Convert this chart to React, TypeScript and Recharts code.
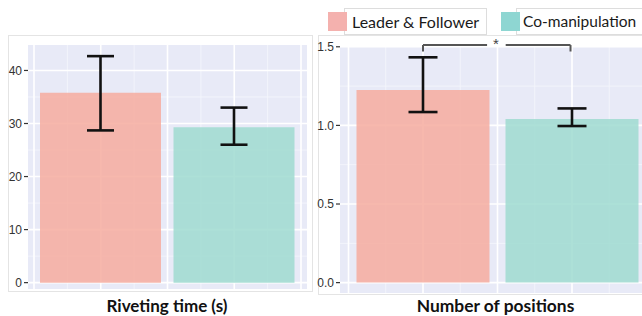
import React from 'react';
import { BarChart, Bar, XAxis, YAxis, CartesianGrid, ErrorBar, ReferenceLine, ReferenceDot, Cell } from 'recharts';

const categories = ['Leader & Follower', 'Co-manipulation'];
const positions = [1, 2];
const rivetMean = [35.8, 29.3];
const rivetLow = [28.7, 26.0];
const rivetHigh = [42.7, 33.0];
const posMean = [1.225, 1.04];
const posLow = [1.085, 0.996];
const posHigh = [1.433, 1.108];
const rivetTicks = [0, 10, 20, 30, 40];
const rivetMinorTicks = [5, 15, 25, 35];
const posTicks = [0, 0.5, 1.0, 1.5];
const posMinorTicks = [0.25, 0.75, 1.25];
const gridMajorX = [0.5, 1, 1.5, 2, 2.5];
const gridMinorX = [0.75, 1.25, 1.75, 2.25];
const barColors = ['#F6AC9F', '#9FDBD0'];
const legendColors = ['#F4B1AE', '#8ED6D2'];
const panelTitles = ['Riveting time (s)', 'Number of positions'];

const rivetData = categories.map((c, i) => ({
  cat: c,
  pos: positions[i],
  mean: rivetMean[i],
  err: [rivetMean[i] - rivetLow[i], rivetHigh[i] - rivetMean[i]],
}));
const posData = categories.map((c, i) => ({
  cat: c,
  pos: positions[i],
  mean: posMean[i],
  err: [posMean[i] - posLow[i], posHigh[i] - posMean[i]],
}));

const tickStyle = { fontSize: 12, fontFamily: 'Liberation Sans, Arial, sans-serif', fill: '#333' };

function Panel(props: {
  data: any[];
  width: number;
  height: number;
  margin: any;
  yWidth: number;
  domain: [number, number];
  ticks: number[];
  minorTicks: number[];
  pad: number;
  barSize: number;
  whisker: number;
  fmt?: (v: number) => string;
  extra?: React.ReactNode;
}) {
  const { data, width, height, margin, yWidth, domain, ticks, minorTicks, pad, barSize, whisker, fmt, extra } = props;
  return (
    <BarChart width={width} height={height} data={data} margin={margin}>
      <XAxis
        dataKey="pos"
        type="number"
        domain={[0.5, 2.5]}
        ticks={gridMajorX}
        interval={0}
        allowDataOverflow
        hide
        padding={{ left: pad, right: pad }}
      />
      <YAxis
        width={yWidth}
        domain={domain}
        allowDataOverflow
        ticks={ticks}
        interval={0}
        axisLine={false}
        tickSize={4}
        tickMargin={2}
        tickLine={{ stroke: '#333', strokeWidth: 1.2 }}
        tick={tickStyle}
        tickFormatter={fmt}
      />
      <CartesianGrid
        horizontalValues={minorTicks}
        verticalValues={gridMinorX}
        fill="#E8EAF7"
        fillOpacity={1}
        stroke="#F5F6FC"
        strokeWidth={0.8}
      />
      <CartesianGrid horizontalValues={ticks} verticalValues={gridMajorX} fill="none" stroke="#FFFFFF" strokeWidth={1.6} />
      <Bar dataKey="mean" barSize={barSize} isAnimationActive={false}>
        {data.map((d, i) => (
          <Cell key={d.cat} fill={barColors[i]} fillOpacity={0.86} />
        ))}
        <ErrorBar dataKey="err" direction="y" width={whisker} stroke="#111" strokeWidth={2.6} isAnimationActive={false} />
      </Bar>
      {extra}
    </BarChart>
  );
}

export default function App() {
  const bracket = { stroke: '#555', strokeWidth: 2, ifOverflow: 'visible' as const };
  const extra = [
    <ReferenceLine key="b1" {...bracket} segment={[{ x: 1, y: 1.47 }, { x: 1, y: 1.511 }]} />,
    <ReferenceLine key="b2" {...bracket} segment={[{ x: 1, y: 1.511 }, { x: 1.43, y: 1.511 }]} />,
    <ReferenceLine key="b3" {...bracket} segment={[{ x: 1.555, y: 1.511 }, { x: 1.99, y: 1.511 }]} />,
    <ReferenceLine key="b4" {...bracket} segment={[{ x: 1.99, y: 1.511 }, { x: 1.99, y: 1.47 }]} />,
    <ReferenceDot
      key="star"
      x={1.49}
      y={1.52}
      r={0}
      ifOverflow="visible"
      label={{ value: '*', position: 'center', fill: '#444', fontSize: 15, fontFamily: 'Liberation Sans, Arial, sans-serif' }}
    />,
  ];
  const titleStyle: React.CSSProperties = {
    position: 'absolute',
    top: 296.5,
    width: 240,
    textAlign: 'center',
    fontFamily: 'Lato, sans-serif',
    fontWeight: 700,
    fontSize: 17,
    lineHeight: '18px',
    color: '#111',
    whiteSpace: 'nowrap',
  };
  const legendBox: React.CSSProperties = {
    position: 'absolute',
    top: 8,
    height: 27,
    boxSizing: 'border-box',
    border: '1px solid #DDDDDD',
    background: '#fff',
  };
  const legendText: React.CSSProperties = {
    position: 'absolute',
    top: 8,
    height: 27,
    lineHeight: '27px',
    fontFamily: 'Lato, sans-serif',
    fontSize: 16,
    color: '#1a1a1a',
    whiteSpace: 'nowrap',
  };
  const key: React.CSSProperties = { position: 'absolute', top: 12, width: 19, height: 19 };
  return (
    <div style={{ position: 'absolute', left: 0, top: 0, width: 642, height: 316, overflow: 'hidden', background: '#fff' }}>
      <div style={{ position: 'absolute', left: 8, top: 35, width: 305, height: 257, boxSizing: 'border-box', border: '1px solid #E4E4E4' }} />
      <div style={{ position: 'absolute', left: 318, top: 35, width: 340, height: 260, boxSizing: 'border-box', border: '1px solid #E4E4E4' }} />
      <div style={{ position: 'absolute', left: 0, top: 0 }}>
        <Panel
          data={rivetData}
          width={320}
          height={316}
          margin={{ top: 45, right: 13, bottom: 27, left: 0 }}
          yWidth={28}
          domain={[-1.2, 44.8]}
          ticks={rivetTicks}
          minorTicks={rivetMinorTicks}
          pad={6}
          barSize={121}
          whisker={13.5}
        />
      </div>
      <div style={{ position: 'absolute', left: 300, top: 0 }}>
        <Panel
          data={posData}
          width={355}
          height={316}
          margin={{ top: 46, right: 0, bottom: 23, left: 0 }}
          yWidth={40}
          domain={[-0.066, 1.505]}
          ticks={posTicks}
          minorTicks={posMinorTicks}
          pad={8.5}
          barSize={133}
          whisker={14.5}
          fmt={(v: number) => v.toFixed(1)}
          extra={extra}
        />
      </div>
      <div style={{ ...legendBox, left: 344, width: 143 }} />
      <div style={{ ...key, left: 328, background: legendColors[0] }} />
      <div style={{ ...legendText, left: 352 }}>{categories[0]}</div>
      <div style={{ ...legendBox, left: 516, width: 140 }} />
      <div style={{ ...key, left: 501, background: legendColors[1] }} />
      <div style={{ ...legendText, left: 523, fontSize: 15.5 }}>{categories[1]}</div>
      <div style={{ ...titleStyle, left: 167 - 120 }}>{panelTitles[0]}</div>
      <div style={{ ...titleStyle, left: 495.5 - 120, fontSize: 17.4 }}>{panelTitles[1]}</div>
    </div>
  );
}
